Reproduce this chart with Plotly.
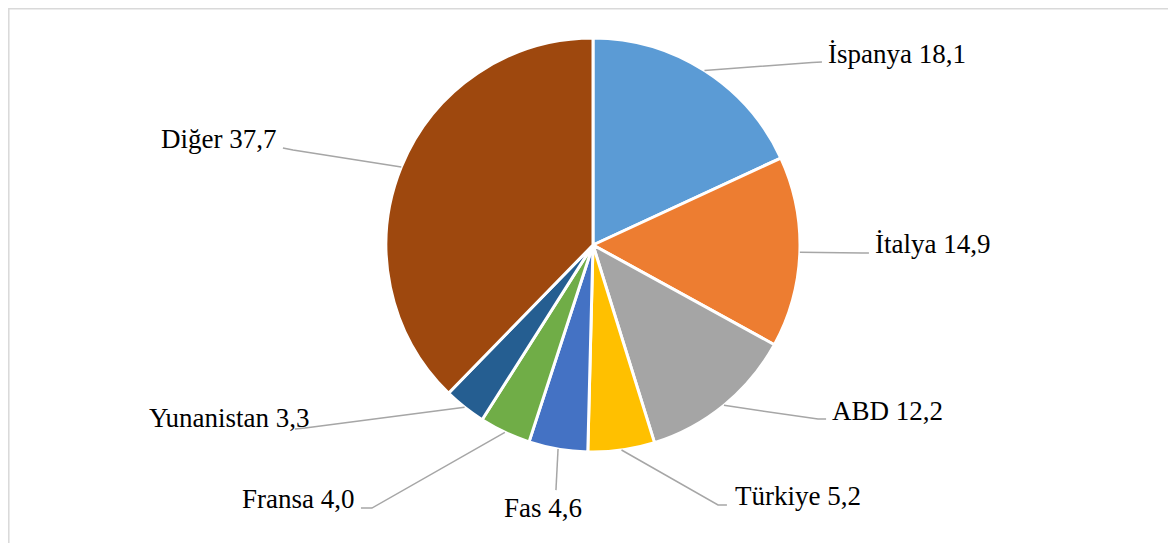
import math
import plotly.graph_objects as go

# ---- data ----
countries = ["İspanya", "İtalya", "ABD", "Türkiye", "Fas", "Fransa", "Yunanistan", "Diğer"]
shares = [18.1, 14.9, 12.2, 5.2, 4.6, 4.0, 3.3, 37.7]
colors = ["#5B9BD5", "#ED7D31", "#A5A5A5", "#FFC000", "#4472C4", "#70AD47", "#255E91", "#9E480E"]

# ---- layout (pixels, figure coords; page adds ~8px body margin) ----
W, H = 1176, 543
CX, CY, R = 585, 237, 207
FS = 27
FONT = "Liberation Serif"

# leader-line elbow / tip and label anchor, in pie-radius units (dx right, dy down)
elbows = [(1.058, -0.882), (1.300, 0.039), (1.087, 0.841), (0.604, 1.256),
          (-0.179, 1.184), (-1.068, 1.271), (-1.391, 0.884), (-1.449, -0.459)]
tips = [(1.106, -0.884), (1.333, 0.039), (1.126, 0.841), (0.647, 1.256),
        (-0.179, 1.184), (-1.121, 1.271), (-1.440, 0.889), (-1.498, -0.469)]
text_pos = [(1.126, -0.879), (1.353, 0.039), (1.145, 0.845), (0.676, 1.256),
            (-0.242, 1.314), (-1.145, 1.271), (-1.362, 0.879), (-1.522, -0.469)]
text_anchor = ["left", "left", "left", "left", "center", "right", "right", "right"]


def px(u, v):
    """pie units -> paper coords"""
    return (CX + u * R) / W, 1 - (CY + v * R) / H


fig = go.Figure()
fig.add_trace(go.Pie(
    labels=countries, values=shares, sort=False, direction="clockwise", rotation=0,
    marker=dict(colors=colors, line=dict(color="white", width=3)),
    textinfo="none", hoverinfo="label+value", showlegend=False,
    domain=dict(x=[(CX - R - 60) / W, (CX + R + 60) / W],
                y=[1 - (CY + R) / H, 1 - (CY - R) / H]),
))

shapes = []
annotations = []
total = sum(shares)
cum = 0.0
for i, (name, val) in enumerate(zip(countries, shares)):
    mid = (cum + val / 2) / total
    cum += val
    th = 2 * math.pi * mid
    su, sv = math.sin(th), -math.cos(th)
    x0, y0 = px(su, sv)
    x1, y1 = px(*elbows[i])
    x2, y2 = px(*tips[i])
    shapes.append(dict(type="path", xref="paper", yref="paper",
                       path=f"M {x0},{y0} L {x1},{y1} L {x2},{y2}",
                       line=dict(color="#A6A6A6", width=1.5)))
    tx, ty = px(*text_pos[i])
    annotations.append(dict(
        x=tx, y=ty + (FS * 0.33) / H, xref="paper", yref="paper",
        text=f"{name} {str(val).replace('.', ',')}", showarrow=False,
        xanchor=text_anchor[i], yanchor="middle",
        font=dict(family=FONT, size=FS, color="black")))

# chart border (right and bottom edges fall outside the visible window)
shapes.append(dict(type="rect", xref="paper", yref="paper",
                   x0=0.8 / W, x1=1.02, y0=-0.02, y1=1 - 0.8 / H,
                   line=dict(color="#D9D9D9", width=1.5)))

fig.update_layout(
    width=W, height=H, margin=dict(l=0, r=0, t=0, b=0),
    paper_bgcolor="white", plot_bgcolor="white",
    font=dict(family=FONT, size=FS, color="black"),
    shapes=shapes, annotations=annotations,
)
fig.write_html("out.html")
